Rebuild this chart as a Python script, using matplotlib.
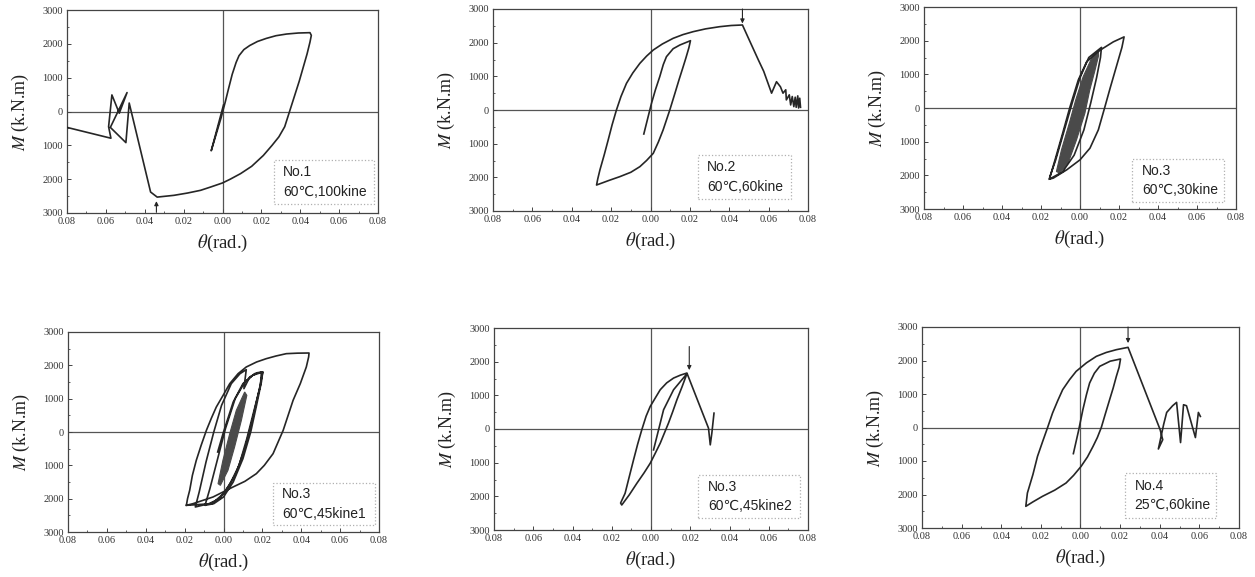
import matplotlib
matplotlib.use("Agg")
import matplotlib.pyplot as plt
from matplotlib.ticker import FuncFormatter, MultipleLocator
from matplotlib.patches import Rectangle

plt.rcParams['mathtext.fontset'] = 'stix'

# ---- data (theta in rad, M in kN.m) ----
p1_x = [0.0005, -0.0058, -0.0008, 0.0015, 0.003, 0.005, 0.007, 0.0085, 0.011, 0.014, 0.018,
        0.0225, 0.0275, 0.033, 0.039, 0.045, 0.0457, 0.045, 0.0435, 0.0415, 0.0395, 0.037,
        0.0345, 0.032, 0.029, 0.0255, 0.021, 0.015, 0.0093, 0.004, 0.0, -0.006, -0.0113,
        -0.018, -0.025, -0.0336, -0.037, -0.048, -0.0497, -0.0577, -0.0491, -0.0531,
        -0.0569, -0.0586, -0.0574, -0.08]
p1_y = [190, -1160, -200, 300, 650, 1100, 1450, 1650, 1830, 1950, 2070,
        2160, 2240, 2290, 2320, 2330, 2250, 2050, 1700, 1300, 900, 450,
        0, -450, -750, -1000, -1300, -1620, -1836, -2000, -2112, -2230, -2330,
        -2410, -2478, -2530, -2380, 250, -920, -470, 560, -50,
        490, -450, -790, -470]

p2_x = [-0.0034, 0.0005, 0.0025, 0.0047, 0.0065, 0.0081, 0.0115, 0.0149, 0.0203, 0.0195,
        0.018, 0.0166, 0.0145, 0.0124, 0.0098, 0.0064, 0.004, 0.0014, -0.002, -0.0054,
        -0.010, -0.0156, -0.021, -0.0274, -0.0268, -0.0257, -0.0235, -0.0215, -0.0195,
        -0.0173, -0.015, -0.0122, -0.009, -0.0054, -0.002, 0.0014, 0.006, 0.0115, 0.0165,
        0.0217, 0.028, 0.0352, 0.041, 0.0467,
        0.050, 0.0548, 0.0575, 0.0615, 0.064, 0.066, 0.0673, 0.0687, 0.069, 0.0705,
        0.0712, 0.072, 0.0728, 0.0735, 0.074, 0.0748, 0.0752, 0.0758, 0.0762]
p2_y = [-713, 198, 600, 990, 1350, 1584, 1820, 1930, 2059, 1850,
        1550, 1287, 900, 495, 0, -594, -950, -1287, -1500, -1683,
        -1850, -1980, -2090, -2228, -2050, -1782, -1330, -891, -440,
        0, 400, 792, 1100, 1386, 1600, 1782, 1960, 2129, 2240,
        2327, 2410, 2475, 2510, 2525,
        2100, 1485, 1150, 500, 840, 690, 500, 600, 300, 450,
        150, 400, 100, 380, 80, 420, 60, 350, 80]

p3_x = [-0.0155, -0.0125, -0.008, -0.004, 0.0, 0.0045, 0.011, 0.0105, 0.0085, 0.0055,
        0.002, -0.003, -0.009, -0.0157, -0.0128, -0.0089, -0.0051, -0.0009, 0.0034,
        0.0103, 0.0171, 0.0226, 0.0215, 0.0185, 0.0155, 0.0128, 0.0094, 0.0051, 0.0,
        -0.0068, -0.0137, -0.0157]
p3_y = [-2050, -1550, -650, 150, 900, 1500, 1800, 1500, 900, 150,
        -650, -1400, -1900, -2112, -1540, -750, 40, 829, 1372,
        1718, 1965, 2112, 1800, 1200, 600, 40, -650, -1194, -1540,
        -1836, -2083, -2112]
p3_fill_x = [-0.0121, -0.0095, -0.0055, -0.0022, 0.0016, 0.0059, 0.0095, 0.0095, 0.0076,
             0.005, 0.0025, -0.0018, -0.0061, -0.0104]
p3_fill_y = [-1886, -1244, -454, 237, 927, 1471, 1700, 1550, 1100,
             533, -158, -948, -1638, -1934]

p4_x = [-0.003, 0.0, 0.005, 0.01, 0.015, 0.0202, 0.0195, 0.017, 0.014, 0.01, 0.005, 0.0,
        -0.005, -0.0095, -0.007, -0.003, 0.001, 0.006, 0.011, 0.016, 0.0195, 0.019, 0.0155,
        0.012, 0.008, 0.003, -0.002, -0.0075, -0.0145, -0.0125, -0.009, -0.005, -0.001,
        0.004, 0.0085, 0.0117, 0.0105, 0.0135, 0.0175, 0.0202, 0.0185, 0.015, 0.011,
        0.006, 0.0, -0.006, -0.0191, -0.0185, -0.0174, -0.016, -0.014, -0.0115, -0.0088,
        -0.0062, -0.0037, 0.0, 0.0032, 0.0075, 0.0117, 0.017, 0.022, 0.027, 0.0323, 0.038,
        0.044, 0.0438, 0.0426, 0.0395, 0.0358, 0.0307, 0.0255, 0.021, 0.0169, 0.011,
        0.0049, -0.0054, -0.0157, -0.0191]
p4_y = [-600, 0, 900, 1450, 1700, 1800, 1500, 800, 0, -800, -1500, -1950,
        -2150, -2200, -1700, -800, 100, 1000, 1500, 1750, 1790, 1400, 600,
        -200, -1000, -1600, -2000, -2150, -2250, -1800, -900, 0, 800,
        1450, 1750, 1870, 1300, 1650, 1780, 1800, 1300, 400, -500,
        -1300, -1850, -2150, -2200, -2000, -1750, -1300, -850, -400, 50,
        420, 750, 1120, 1450, 1750, 1950, 2100, 2200, 2280, 2350, 2365,
        2370, 2250, 1950, 1450, 950, 50, -650, -1000, -1250, -1480,
        -1650, -1950, -2150, -2200]
p4_fill_x = [-0.0028, -0.0003, 0.0032, 0.0066, 0.0109, 0.012, 0.0092, 0.0057, 0.0023, -0.0016]
p4_fill_y = [-1550, -850, -50, 650, 1200, 1100, 350, -450, -1150, -1600]

p5_x = [0.0013, 0.0064, 0.0115, 0.0183, 0.0158, 0.0132, 0.0111, 0.0089, 0.0047, 0.002,
        -0.0004, -0.0035, -0.0072, -0.011, -0.0149, -0.0155, -0.0132, -0.011, -0.0089,
        -0.0068, -0.0047, -0.0025, -0.0004, 0.0047, 0.008, 0.0115, 0.015, 0.0183,
        0.0293, 0.0302, 0.031, 0.0321]
p5_y = [-620, 570, 1166, 1642, 1250, 868, 520, 174, -422, -740,
        -1017, -1300, -1612, -1950, -2257, -2200, -1910, -1400, -918,
        -450, -25, 380, 670, 1166, 1370, 1513, 1600, 1662,
        25, -471, -124, 471]

p6_x = [-0.0036, -0.001, 0.0012, 0.003, 0.0046, 0.007, 0.0097, 0.015, 0.0202, 0.0195,
        0.0181, 0.0165, 0.0147, 0.0125, 0.0105, 0.0085, 0.0063, 0.0035, 0.0003, -0.0035,
        -0.0073, -0.013, -0.0192, -0.024, -0.0276, -0.0272, -0.0268, -0.024, -0.0217,
        -0.019, -0.0166, -0.0141, -0.0115, -0.009, -0.0055, -0.0022, 0.003, 0.008, 0.013,
        0.0181, 0.024, 0.0402, 0.0415, 0.0393,
        0.042, 0.0435, 0.0465, 0.0485, 0.0505, 0.052, 0.0535, 0.058, 0.0595, 0.0605]
p6_y = [-780, -100, 532, 980, 1328, 1620, 1826, 1980, 2045, 1800,
        1527, 1180, 831, 400, 0, -300, -567, -880, -1160, -1430,
        -1657, -1870, -2055, -2220, -2353, -2150, -1955, -1400, -861,
        -400, 0, 433, 800, 1129, 1430, 1676, 1930, 2124, 2240,
        2323, 2393, -66, -364, -642,
        100, 450, 650, 750, -450, 680, 650, -300, 450, 330]

labels = ["No.1\n60\u2103,100kine", "No.2\n60\u2103,60kine", "No.3\n60\u2103,30kine",
          "No.3\n60\u2103,45kine1", "No.3\n60\u2103,45kine2", "No.4\n25\u2103,60kine"]
# arrows: x position, tail y, tip y
arrows = [(-0.034, -2980, -2650), (0.0467, 3000, 2570), None,
          None, (0.0195, 2450, 1750), (0.024, 3000, 2520)]

curves = [(p1_x, p1_y), (p2_x, p2_y), (p3_x, p3_y), (p4_x, p4_y), (p5_x, p5_y), (p6_x, p6_y)]
fills = [None, None, (p3_fill_x, p3_fill_y), (p4_fill_x, p4_fill_y), None, None]

# axes boxes in pixels: left, right, top, bottom
W, H = 1255, 577
boxes_px = [(67, 378, 10, 213), (493, 808, 9, 211), (924, 1236, 7, 209),
            (68, 379, 332, 532), (494, 808, 328, 530), (922, 1239, 327, 528)]
# legend box in axes fractions: x0, x1, y0, y1
leg = [(0.665, 0.986, 0.046, 0.26), (0.65, 0.947, 0.058, 0.277), (0.668, 0.963, 0.033, 0.247),
       (0.659, 0.986, 0.033, 0.245), (0.651, 0.973, 0.058, 0.273), (0.64, 0.927, 0.05, 0.274)]

fig = plt.figure(figsize=(W / 100, H / 100), dpi=100)
serif = ['Liberation Serif', 'DejaVu Serif']
boxfont = ['Liberation Sans', 'DejaVu Sans']
lc = '#262626'

for i in range(6):
    l, r, t, b = boxes_px[i]
    ax = fig.add_axes([l / W, 1 - b / H, (r - l) / W, (b - t) / H])
    ax.set_xlim(-0.08, 0.08)
    ax.set_ylim(-3000, 3000)
    ax.axhline(0, color='#555555', lw=0.9, zorder=1)
    ax.axvline(0, color='#555555', lw=0.9, zorder=1)

    if fills[i] is not None:
        ax.fill(fills[i][0], fills[i][1], color='#4a4a4a', lw=0.8, zorder=2)
    ax.plot(curves[i][0], curves[i][1], color=lc, lw=1.2, zorder=3)

    if arrows[i] is not None:
        ax_x, y0, y1 = arrows[i]
        ax.annotate('', xy=(ax_x, y1), xytext=(ax_x, y0),
                    arrowprops=dict(arrowstyle='-|>', color=lc, lw=0.8,
                                    mutation_scale=6, shrinkA=0, shrinkB=0))

    x0, x1, y0, y1 = leg[i]
    ax.add_patch(Rectangle((x0, y0), x1 - x0, y1 - y0, transform=ax.transAxes,
                           fill=False, ls=':', ec='#b0b0b0', lw=0.9))
    ax.text(x0 + 0.03, (y0 + y1) / 2, labels[i], transform=ax.transAxes,
            ha='left', va='center', fontsize=10, linespacing=1.5,
            family=boxfont, color='#222222')

    ax.xaxis.set_major_locator(MultipleLocator(0.02))
    ax.xaxis.set_minor_locator(MultipleLocator(0.01))
    ax.yaxis.set_major_locator(MultipleLocator(1000))
    ax.yaxis.set_minor_locator(MultipleLocator(500))
    ax.xaxis.set_major_formatter(FuncFormatter(lambda v, p: '%.2f' % abs(v)))
    ax.yaxis.set_major_formatter(FuncFormatter(lambda v, p: '%d' % abs(round(v))))
    ax.tick_params(which='both', direction='in', colors='#444444', labelcolor='#333333',
                   labelsize=7.5, pad=3)
    ax.tick_params(which='major', length=3, width=0.7)
    ax.tick_params(which='minor', length=1.5, width=0.6)
    for lab in ax.get_xticklabels() + ax.get_yticklabels():
        lab.set_family(serif)
    for s in ax.spines.values():
        s.set_color('#444444')
        s.set_linewidth(0.9)

    h = b - t
    ax.text(0.5, -30 / h, r'$\theta$(rad.)', transform=ax.transAxes, ha='center',
            va='center', fontsize=13.5, family=serif, color='#222222')
    ax.text(-47 / (r - l), 0.5, r'$M$ (k.N.m)', transform=ax.transAxes, ha='center',
            va='center', rotation=90, fontsize=13, family=serif, color='#222222')

fig.savefig('out.png', dpi=100, facecolor='white')
